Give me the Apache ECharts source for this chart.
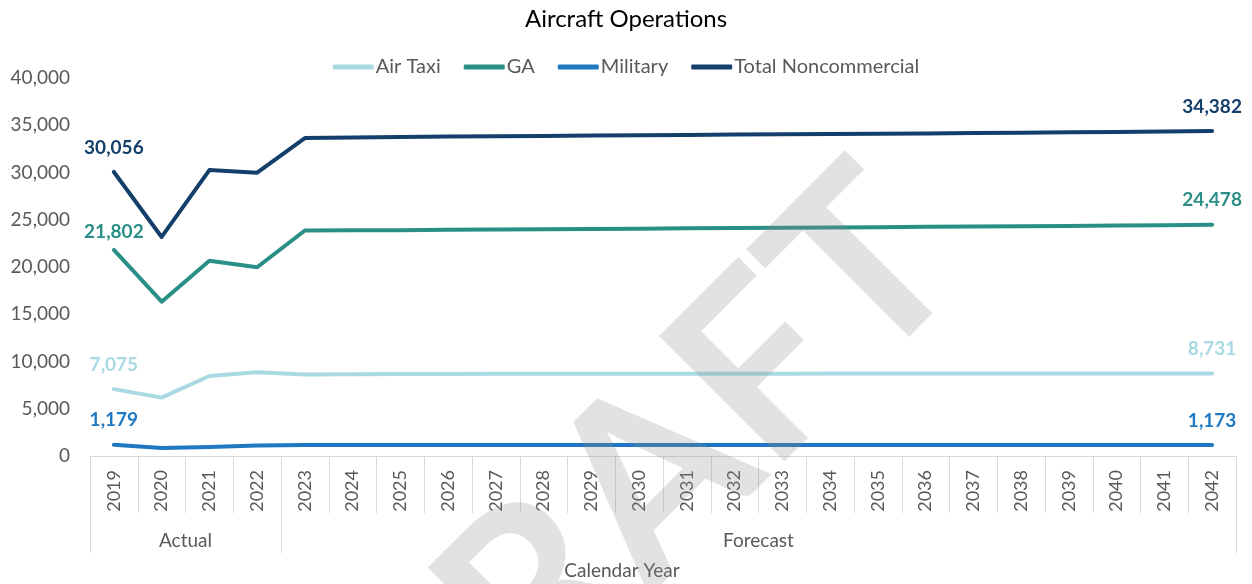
<!DOCTYPE html>
<html>
<head>
    <meta charset="utf-8" />
    <title>Aircraft Operations</title>
    <script type="text/javascript" src="https://cdn.jsdelivr.net/npm/echarts@6/dist/echarts.min.js"></script>
    <style>
        html, body { margin: 0; padding: 0; background: #fff; }
    </style>
</head>
<body>
<div id="main" style="width: 1252px;height:584px;"></div>
<script type="text/javascript">
    // years on the x axis
    var years = ['2019', '2020', '2021', '2022', '2023', '2024', '2025', '2026', '2027', '2028', '2029', '2030',
        '2031', '2032', '2033', '2034', '2035', '2036', '2037', '2038', '2039', '2040', '2041', '2042'];
    // values
    var airTaxi = [7075, 6180, 8465, 8855, 8620, 8660, 8680, 8690, 8700, 8700, 8705, 8710,
        8710, 8715, 8715, 8720, 8720, 8720, 8725, 8725, 8728, 8730, 8730, 8731];
    var ga = [21802, 16330, 20670, 19970, 23860, 23880, 23900, 23940, 23970, 24000, 24030, 24060,
        24090, 24120, 24150, 24180, 24210, 24250, 24280, 24310, 24350, 24390, 24430, 24478];
    var military = [1179, 850, 950, 1110, 1168, 1170, 1170, 1171, 1171, 1171, 1172, 1172,
        1172, 1172, 1172, 1172, 1173, 1173, 1173, 1173, 1173, 1173, 1173, 1173];
    var totalNoncommercial = [30056, 23180, 30260, 29980, 33650, 33710, 33750, 33800, 33840, 33870, 33910, 33940,
        33970, 34010, 34040, 34070, 34100, 34140, 34180, 34210, 34250, 34290, 34330, 34382];
    var yTicks = [0, 5000, 10000, 15000, 20000, 25000, 30000, 35000, 40000];
    var groups = ['Actual', 'Forecast'];

    var font = 'Lato, "Open Sans", sans-serif';
    var gray = '#595959';

    // only the first and the last point get a label
    function withEndLabels(values, color, firstDist) {
        var last = values.length - 1;
        return values.map(function (v, i) {
            if (i === 0 || i === last) {
                return {
                    value: v,
                    label: {
                        show: true,
                        position: 'top',
                        distance: i === 0 && firstDist != null ? firstDist : 15,
                        color: color,
                        fontWeight: 'bold',
                        fontSize: 19,
                        fontFamily: font,
                        formatter: function (p) { return p.value.toLocaleString('en-US'); }
                    }
                };
            }
            return v;
        });
    }

    function lineSeries(name, values, color, firstDist) {
        return {
            name: name,
            type: 'line',
            data: withEndLabels(values, color, firstDist),
            symbol: 'circle',
            symbolSize: 0,
            lineStyle: { color: color, width: 4, cap: 'round', join: 'round' },
            itemStyle: { color: color },
            emphasis: { disabled: true }
        };
    }

    var myChart = echarts.init(document.getElementById('main'));
    var option = {
        animation: false,
        color: ['#a9d9e3', '#2a8f86', '#1f78c1', '#143f6b'],
        title: {
            text: 'Aircraft Operations',
            left: 'center',
            top: 2,
            textStyle: { fontFamily: font, fontSize: 24, fontWeight: 'normal', color: '#000' }
        },
        legend: {
            top: 52,
            left: 'center',
            itemWidth: 41,
            itemHeight: 5,
            itemGap: 23,
            icon: 'roundRect',
            textStyle: { fontFamily: font, fontSize: 20, color: gray, padding: [0, 0, 0, -3] },
            data: ['Air Taxi', 'GA', 'Military', 'Total Noncommercial']
        },
        grid: { left: 90, right: 16, top: 78, bottom: 128, containLabel: false },
        xAxis: [
            {
                type: 'category',
                data: years,
                boundaryGap: true,
                axisLine: { lineStyle: { color: '#d9d9d9', width: 1 } },
                axisTick: { show: true, interval: 0, length: 57, lineStyle: { color: '#d9d9d9' } },
                axisLabel: { interval: 0, rotate: 90, margin: 14, fontSize: 18, fontFamily: font, color: gray },
                splitLine: { show: false }
            },
            {
                type: 'value',
                position: 'bottom',
                offset: 57,
                min: 0,
                max: years.length,
                axisLine: { show: false },
                axisTick: { show: true, length: 40, customValues: [0, 4, years.length], lineStyle: { color: '#d9d9d9' } },
                axisLabel: {
                    customValues: [2, 14],
                    margin: 18,
                    fontSize: 19,
                    fontFamily: font,
                    color: gray,
                    formatter: function (v) { return v < 4 ? groups[0] : groups[1]; }
                },
                splitLine: { show: false }
            }
        ],
        yAxis: {
            type: 'value',
            min: yTicks[0],
            max: yTicks[yTicks.length - 1],
            interval: 5000,
            axisLine: { show: false },
            axisTick: { show: false },
            splitLine: { show: false },
            axisLabel: {
                margin: 20,
                fontSize: 19,
                fontFamily: font,
                color: gray,
                formatter: function (v) { return v.toLocaleString('en-US'); }
            }
        },
        series: [
            lineSeries('Air Taxi', airTaxi, '#a9d9e3'),
            lineSeries('GA', ga, '#2a8f86', 9),
            lineSeries('Military', military, '#1f78c1'),
            lineSeries('Total Noncommercial', totalNoncommercial, '#143f6b')
        ],
        graphic: [
            {
                type: 'text',
                x: 622,
                y: 571,
                silent: true,
                style: {
                    text: 'Calendar Year',
                    x: 0, y: 0,
                    align: 'center',
                    verticalAlign: 'middle',
                    fontFamily: font,
                    fontSize: 19,
                    fill: gray
                }
            },
            {
                // watermark
                type: 'text',
                x: 634,
                y: 500,
                rotation: Math.PI / 4,
                z: 100,
                silent: true,
                style: {
                    text: 'DRAFT',
                    x: 0, y: 0,
                    align: 'center',
                    verticalAlign: 'middle',
                    fontFamily: font,
                    fontWeight: 'bold',
                    fontSize: 245,
                    fill: 'rgba(140,140,140,0.25)'
                }
            }
        ]
    };
    myChart.setOption(option);
</script>
</body>
</html>
